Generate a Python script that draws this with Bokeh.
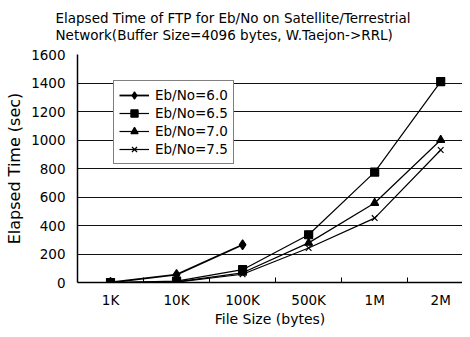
from bokeh.plotting import figure
from bokeh.models import FixedTicker, Range1d, Legend, LegendItem, Title
from bokeh.embed import file_html
from bokeh.resources import INLINE

categories = ["1K", "10K", "100K", "500K", "1M", "2M"]
eb60 = [0, 55, 265]
eb65 = [0, 10, 90, 335, 775, 1410]
eb70 = [0, 5, 68, 278, 558, 1000]
eb75 = [0, 3, 58, 242, 452, 930]
y_ticks = [0, 200, 400, 600, 800, 1000, 1200, 1400, 1600]
title_lines = ["Elapsed Time of FTP for Eb/No on Satellite/Terrestrial",
               "Network(Buffer Size=4096 bytes, W.Taejon->RRL)"]

xs = [i + 0.5 for i in range(len(categories))]
FONT = "DejaVu Sans"

p = figure(width=462, height=329, output_backend="svg", toolbar_location=None,
           x_range=Range1d(0, 5.83), y_range=Range1d(0, 1600),
           min_border_left=77, min_border_right=0, min_border_top=54, min_border_bottom=46)
p.outline_line_color = None

# axes
p.yaxis.ticker = FixedTicker(ticks=y_ticks)
p.yaxis.major_tick_out = 0
p.yaxis.major_tick_in = 0
p.yaxis.minor_tick_out = 0
p.yaxis.axis_line_color = "black"
p.yaxis.axis_line_width = 1.5
p.yaxis.major_label_text_font = FONT
p.yaxis.major_label_text_font_size = "13.5px"
p.yaxis.major_label_text_color = "black"
p.yaxis.major_label_standoff = 12
p.yaxis.axis_label = "Elapsed Time (sec)"
p.yaxis.axis_label_text_font = FONT
p.yaxis.axis_label_text_font_size = "16px"
p.yaxis.axis_label_text_font_style = "normal"
p.yaxis.axis_label_text_color = "black"
p.yaxis.axis_label_standoff = 4

p.xaxis.ticker = FixedTicker(ticks=xs, minor_ticks=list(range(1, len(categories))))
p.xaxis.major_label_overrides = {x: c for x, c in zip(xs, categories)}
p.xaxis.major_tick_out = 0
p.xaxis.major_tick_in = 0
p.xaxis.minor_tick_out = 0
p.xaxis.minor_tick_in = 5
p.xaxis.minor_tick_line_color = "black"
p.xaxis.axis_line_color = "black"
p.xaxis.axis_line_width = 1.5
p.xaxis.major_label_text_font = FONT
p.xaxis.major_label_text_font_size = "13.5px"
p.xaxis.major_label_text_color = "black"
p.xaxis.major_label_standoff = 9
p.xaxis.axis_label = "File Size (bytes)"
p.xaxis.axis_label_text_font = FONT
p.xaxis.axis_label_text_font_size = "14px"
p.xaxis.axis_label_text_font_style = "normal"
p.xaxis.axis_label_text_color = "black"
p.xaxis.axis_label_standoff = 0

p.xgrid.grid_line_color = None
p.ygrid.ticker = FixedTicker(ticks=y_ticks)
p.ygrid.grid_line_color = "#111111"
p.ygrid.grid_line_width = 1.2

# series
items = []
specs = [("Eb/No=6.0", eb60, "diamond", 10, 1.8),
         ("Eb/No=6.5", eb65, "square", 8, 1.2),
         ("Eb/No=7.0", eb70, "triangle", 8, 1.2),
         ("Eb/No=7.5", eb75, "x", 8, 1.2)]
for label, vals, marker, size, lw in specs:
    x = xs[:len(vals)]
    r1 = p.line(x, vals, line_color="black", line_width=lw)
    r2 = p.scatter(x, vals, marker=marker, size=size, line_color="black",
                   fill_color="black", line_width=1.2)
    items.append(LegendItem(label=label, renderers=[r1, r2]))

legend = Legend(items=items, location=(36, 118), border_line_color="black",
                border_line_width=1.5, background_fill_color="white", background_fill_alpha=1,
                padding=5, spacing=0, margin=0, label_height=18, glyph_height=18,
                glyph_width=30, label_standoff=6, label_text_font=FONT,
                label_text_font_size="13.5px", label_text_color="black")
p.add_layout(legend)

# two-line title
p.add_layout(Title(text="\n".join(title_lines), align="left", offset=-22, standoff=18,
                   vertical_align="top",
                   text_font=FONT, text_font_size="13.5px", text_font_style="normal",
                   text_line_height=1.1, text_color="black"), "above")

open("out.html", "w").write(file_html(p, INLINE))
